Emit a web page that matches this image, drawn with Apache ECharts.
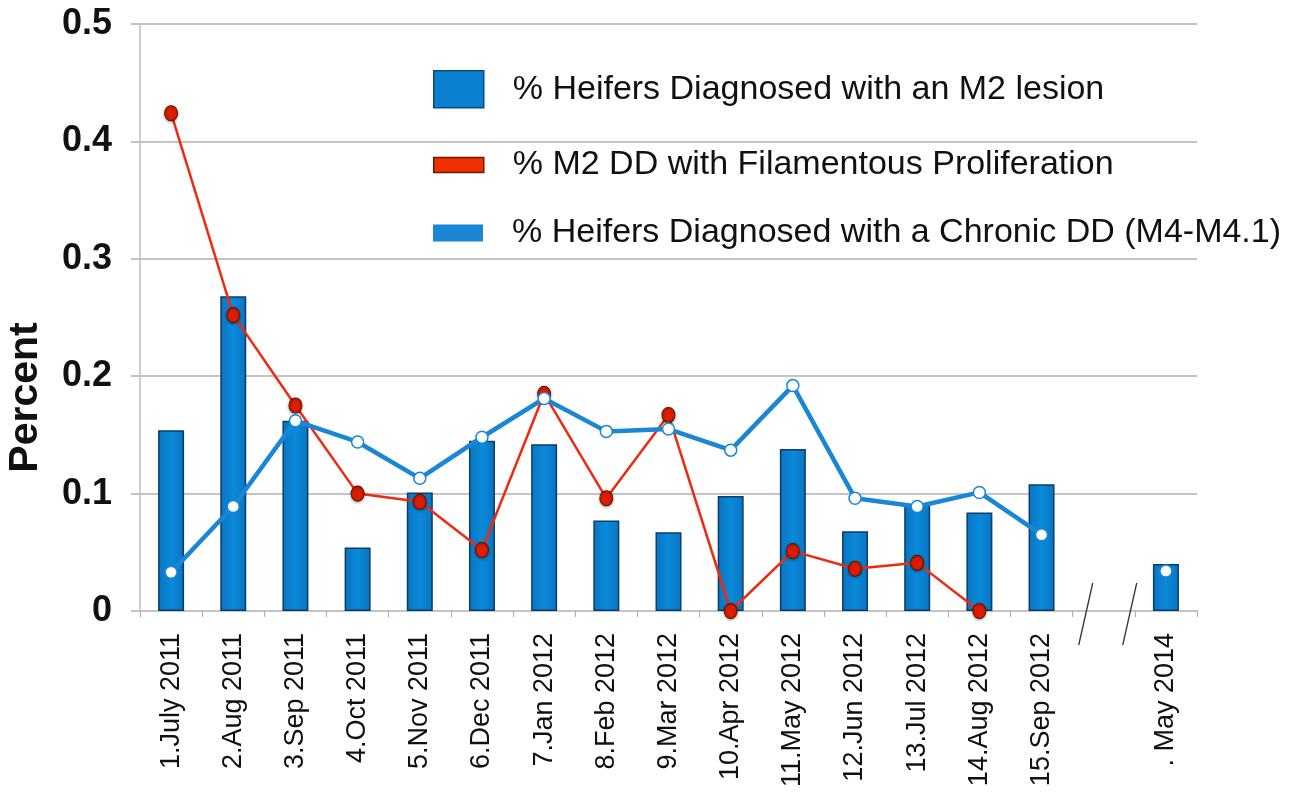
<!DOCTYPE html>
<html>
<head>
<meta charset="utf-8">
<script src="https://cdn.jsdelivr.net/npm/echarts@6/dist/echarts.min.js"></script>
<style>
html,body{margin:0;padding:0;background:#fff}
#chart{width:1297px;height:803px}
</style>
</head>
<body>
<div id="chart"></div>
<script>
// categories (index 15 is the axis break, no data)
const months = ['1.July 2011','2.Aug 2011','3.Sep 2011','4.Oct 2011','5.Nov 2011','6.Dec 2011',
  '7.Jan 2012','8.Feb 2012','9.Mar 2012','10.Apr 2012','11.May 2012','12.Jun 2012',
  '13.Jul 2012','14.Aug 2012','15.Sep 2012','','. May 2014']

// % Heifers Diagnosed with an M2 lesion
const m2Lesion = [0.154,0.268,0.162,0.054,0.101,0.145,0.142,0.077,0.067,0.098,0.138,0.068,0.091,0.084,0.108,null,0.040]
// % M2 DD with Filamentous Proliferation
const filament = [0.424,0.252,0.175,0.100,0.093,0.052,0.185,0.096,0.167,0,0.051,0.036,0.041,0,null,null,null]
// % Heifers Diagnosed with a Chronic DD (M4-M4.1)
const chronic = [0.033,0.089,0.162,0.144,0.113,0.148,0.181,0.153,0.155,0.137,0.192,0.096,0.089,0.101,0.065,null,0.034]

const names = ['% Heifers Diagnosed with an M2 lesion',
  '% M2 DD with Filamentous Proliferation',
  '% Heifers Diagnosed with a Chronic DD (M4-M4.1)']

const barBlue = '#0a80d0'
const lineBlue = '#1a86d6'
const red = '#f02a10'

var chart = echarts.init(document.getElementById('chart'), null, {renderer: 'canvas'})

// one legend per series so every icon can have its own size
function makeLegend(name, top, w, h, style) {
    return {
        show: true,
        left: 428,
        top: top,
        itemWidth: w,
        itemHeight: h,
        selectedMode: false,
        data: [{name: name, icon: 'rect', itemStyle: style}],
        textStyle: {
            fontFamily: 'Liberation Sans, Arial, sans-serif',
            fontSize: 34,
            color: '#111',
            padding: [0, 0, 0, 24]
        }
    }
}

var option = {
    backgroundColor: '#fff',
    animation: false,
    grid: {left: 140, right: 100, top: 24, bottom: 192, outerBoundsMode: 'none', containLabel: false},
    legend: [
        makeLegend(names[0], 65, 50, 37, {color: barBlue, borderColor: '#0b4a80', borderWidth: 1.5}),
        makeLegend(names[1], 143, 50, 15, {color: '#f03000', borderColor: '#6a1a00', borderWidth: 1.5}),
        makeLegend(names[2], 211, 50, 17, {color: lineBlue, borderWidth: 0})
    ],
    xAxis: {
        type: 'category',
        data: months,
        axisLine: {lineStyle: {color: '#c4c4c4', width: 2}},
        axisTick: {show: true, length: 6, lineStyle: {color: '#b0b0b0', width: 1.2}},
        axisLabel: {
            interval: 0,
            rotate: 90,
            margin: 22,
            fontFamily: 'Liberation Sans, Arial, sans-serif',
            fontSize: 27,
            color: '#111'
        }
    },
    yAxis: {
        type: 'value',
        min: 0,
        max: 0.5,
        interval: 0.1,
        name: 'Percent',
        nameLocation: 'middle',
        nameGap: 94,
        nameRotate: 90,
        nameTextStyle: {
            fontFamily: 'Liberation Sans, Arial, sans-serif',
            fontWeight: 'bold',
            fontSize: 41,
            color: '#111',
            padding: [0, 160, 0, 0]
        },
        axisLine: {show: true, lineStyle: {color: '#c0c0c0', width: 1.5}},
        axisTick: {show: true, length: 9, lineStyle: {color: '#c4c4c4', width: 2}},
        splitLine: {lineStyle: {color: '#c4c4c4', width: 2}},
        axisLabel: {
            margin: 28,
            fontFamily: 'Liberation Sans, Arial, sans-serif',
            fontWeight: 'bold',
            fontSize: 36,
            color: '#111'
        }
    },
    series: [
        {
            name: names[0],
            type: 'bar',
            data: m2Lesion,
            barWidth: 26,
            itemStyle: {
                color: new echarts.graphic.LinearGradient(0, 0, 1, 0, [
                    {offset: 0, color: '#0a74c0'},
                    {offset: 0.5, color: '#0a8ada'},
                    {offset: 1, color: '#0a74c0'}
                ]),
                borderColor: '#0b3d6a',
                borderWidth: 1.5
            },
            z: 2
        },
        {
            name: names[1],
            type: 'line',
            data: filament,
            symbol: 'circle',
            symbolSize: [13, 15],
            lineStyle: {color: red, width: 2.5},
            itemStyle: {color: '#dd1c00', borderColor: '#5a1400', borderWidth: 1,
                shadowColor: 'rgba(0,0,0,0.35)', shadowBlur: 3, shadowOffsetY: 1},
            z: 3
        },
        {
            name: names[2],
            type: 'line',
            data: chronic,
            symbol: 'circle',
            symbolSize: 12,
            connectNulls: false,
            lineStyle: {color: lineBlue, width: 4.5},
            itemStyle: {color: '#fff', borderColor: lineBlue, borderWidth: 1.5},
            z: 4
        }
    ]
}

chart.setOption(option)

// axis break marks around the empty category
var mid = chart.convertToPixel({xAxisIndex: 0}, months[15])
var base = chart.convertToPixel({yAxisIndex: 0}, 0)
function breakLine(dx) {
    return {
        type: 'line',
        shape: {x1: mid + dx - 7, y1: base + 34, x2: mid + dx + 7, y2: base - 28},
        style: {stroke: '#333', lineWidth: 1.3},
        z: 10
    }
}
chart.setOption({graphic: [breakLine(-18), breakLine(26)]})
</script>
</body>
</html>
